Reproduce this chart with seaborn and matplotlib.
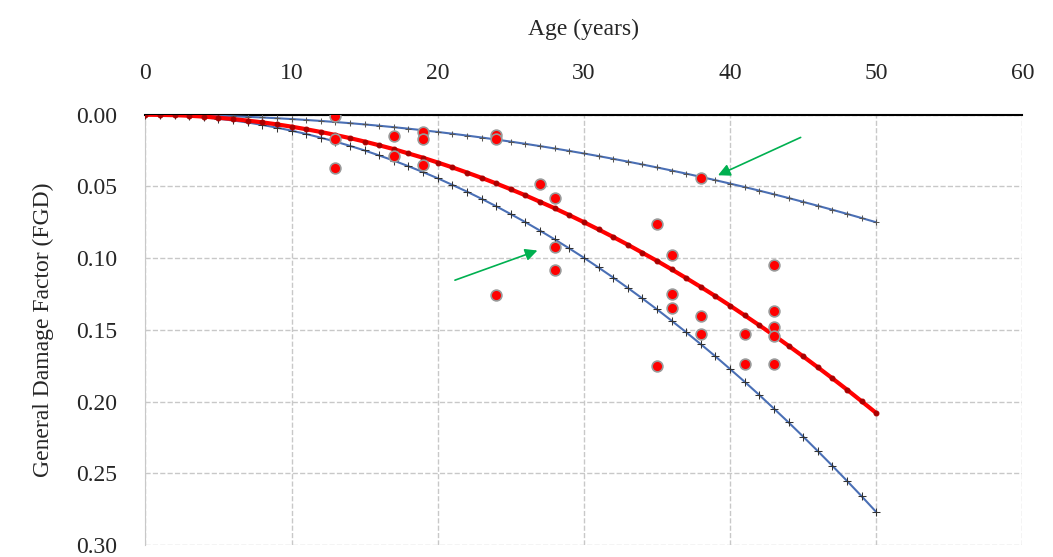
import numpy as np
import pandas as pd
import matplotlib
matplotlib.use("Agg")
import matplotlib.pyplot as plt
import seaborn as sns

age = list(range(0, 51))
upper = [0, 0.00003, 0.00012, 0.00027, 0.00048, 0.00075, 0.00108, 0.00147, 0.00192, 0.00243,
         0.003, 0.00363, 0.00432, 0.00507, 0.00588, 0.00675, 0.00768, 0.00867, 0.00972, 0.01083,
         0.012, 0.01323, 0.01452, 0.01587, 0.01728, 0.01875, 0.02028, 0.02187, 0.02352, 0.02523,
         0.027, 0.02883, 0.03072, 0.03267, 0.03468, 0.03675, 0.03888, 0.04107, 0.04332, 0.04563,
         0.048, 0.05043, 0.05292, 0.05547, 0.05808, 0.06075, 0.06348, 0.06627, 0.06912, 0.07203, 0.075]
mean = [0, 0.0001, 0.0003, 0.0007, 0.0013, 0.0021, 0.0030, 0.0041, 0.0053, 0.0067,
        0.0083, 0.0101, 0.0120, 0.0141, 0.0163, 0.0187, 0.0213, 0.0240, 0.0270, 0.0300,
        0.0333, 0.0367, 0.0403, 0.0440, 0.0479, 0.0520, 0.0562, 0.0607, 0.0652, 0.0700,
        0.0749, 0.0800, 0.0852, 0.0906, 0.0962, 0.1019, 0.1078, 0.1139, 0.1201, 0.1265,
        0.1331, 0.1399, 0.1468, 0.1538, 0.1611, 0.1685, 0.1761, 0.1838, 0.1917, 0.1998, 0.2080]
lower = [0, 0.0001, 0.0004, 0.0010, 0.0018, 0.0028, 0.0040, 0.0054, 0.0071, 0.0090,
         0.0111, 0.0134, 0.0160, 0.0187, 0.0217, 0.0249, 0.0284, 0.0320, 0.0359, 0.0400,
         0.0443, 0.0489, 0.0536, 0.0586, 0.0638, 0.0693, 0.0749, 0.0808, 0.0869, 0.0932,
         0.0997, 0.1065, 0.1135, 0.1207, 0.1281, 0.1357, 0.1436, 0.1517, 0.1600, 0.1685,
         0.1773, 0.1862, 0.1954, 0.2049, 0.2145, 0.2244, 0.2345, 0.2448, 0.2553, 0.2660, 0.2770]

obs_age = [13, 13, 13, 17, 17, 19, 19, 19, 24, 24, 24, 27, 28, 28, 28, 35, 35, 36, 36, 36,
           38, 38, 38, 41, 41, 43, 43, 43, 43, 43]
obs_fgd = [0.001, 0.017, 0.037, 0.015, 0.029, 0.012, 0.017, 0.035, 0.014, 0.017, 0.126, 0.048,
           0.058, 0.092, 0.108, 0.076, 0.175, 0.098, 0.125, 0.135, 0.044, 0.140, 0.153, 0.153,
           0.174, 0.105, 0.137, 0.148, 0.154, 0.174]

sns.set_style("white")
plt.rcParams['font.family'] = ['Liberation Serif', 'DejaVu Serif']

fig = plt.figure(figsize=(10.53, 5.57), dpi=100)
ax = fig.add_axes([0.138, 0.0215, 0.833, 0.7725])

curves = pd.DataFrame({"age": age, "upper": upper, "mean": mean, "lower": lower})
sns.lineplot(data=curves, x="age", y="upper", ax=ax, color="#4a6fb5", lw=1.5,
             marker="+", markersize=4, mec="#555555", zorder=3)
sns.lineplot(data=curves, x="age", y="lower", ax=ax, color="#4a6fb5", lw=1.5,
             marker="+", markersize=6, mec="#333333", zorder=3)
sns.lineplot(data=curves, x="age", y="mean", ax=ax, color="#ff0000", lw=3,
             marker="o", markersize=3.5, mfc="#aa0000", mec="#aa0000", zorder=4)
sns.scatterplot(x=obs_age, y=obs_fgd, ax=ax, color="#ff0000", s=60,
                edgecolor="#999999", linewidth=1.2, zorder=5)

ax.annotate("", xy=(39, 0.043), xytext=(45, 0.015),
            arrowprops=dict(arrowstyle="-|>", color="#00b050", lw=1.2, mutation_scale=18))
ax.annotate("", xy=(27, 0.094), xytext=(21, 0.116),
            arrowprops=dict(arrowstyle="-|>", color="#00b050", lw=1.2, mutation_scale=18))

ax.set_xlim(0, 60)
ax.set_ylim(0.30, 0)
ax.set_xticks(range(0, 61, 10))
ax.set_yticks(np.arange(0, 0.301, 0.05))
ax.set_yticklabels([f"{v:.2f}" for v in np.arange(0, 0.301, 0.05)])
ax.xaxis.tick_top()
ax.xaxis.set_label_position("top")
ax.set_xlabel("Age (years)", fontsize=17, labelpad=20)
ax.set_ylabel("General Damage Factor (FGD)", fontsize=17, labelpad=16)
ax.tick_params(labelsize=17, length=0)
ax.tick_params(axis="x", pad=22)
ax.tick_params(axis="y", pad=20)
ax.grid(True, ls="--", color="#c8c8c8", lw=1)
for s in ["right", "bottom"]:
    ax.spines[s].set_visible(False)
ax.spines["top"].set_color("black")
ax.spines["top"].set_linewidth(1.5)
ax.spines["left"].set_color("#c8c8c8")

fig.savefig("out.png", dpi=100)
